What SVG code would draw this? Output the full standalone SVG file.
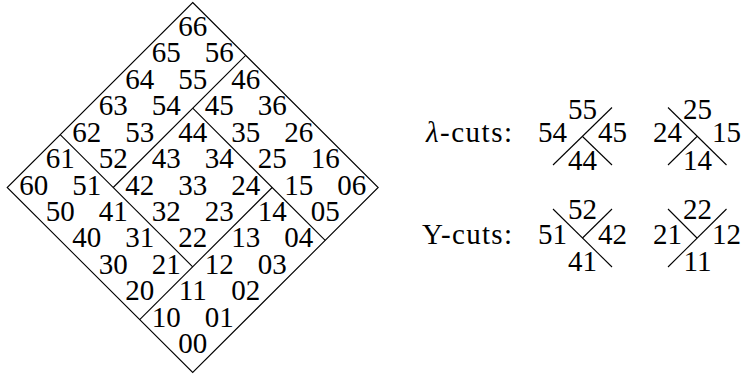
<svg xmlns="http://www.w3.org/2000/svg" width="742" height="375" viewBox="0 0 742 375">
<style>
.lb{font-family:"Liberation Serif","Times New Roman",serif;font-size:29px;text-anchor:middle;fill:#000}
.tl{font-family:"Liberation Serif","Times New Roman",serif;font-size:29px;fill:#000}
.ln{stroke:#000;stroke-width:1.1;fill:none;stroke-linecap:butt}
</style>
<rect width="742" height="375" fill="#fff"/>
<g id="diamond"><polygon class="ln" points="192.7,2.5 378.2,187.5 192.7,372.5 7.2,187.5"/></g>
<g id="connectors">
<line class="ln" x1="139.7" y1="319.6" x2="272.2" y2="187.5"/>
<line class="ln" x1="325.2" y1="240.4" x2="192.7" y2="108.2"/>
<line class="ln" x1="113.2" y1="187.5" x2="245.7" y2="55.3"/>
<line class="ln" x1="192.7" y1="266.8" x2="60.2" y2="134.6"/>
<line class="ln" x1="553" y1="165" x2="612" y2="107.5"/>
<line class="ln" x1="582.5" y1="136.5" x2="612" y2="165"/>
<line class="ln" x1="668" y1="107.5" x2="726.5" y2="165"/>
<line class="ln" x1="668" y1="165" x2="697" y2="136.5"/>
<line class="ln" x1="553" y1="209" x2="612" y2="267"/>
<line class="ln" x1="582.5" y1="238" x2="612" y2="209"/>
<line class="ln" x1="668" y1="267" x2="726.5" y2="209"/>
<line class="ln" x1="668" y1="209" x2="697" y2="238"/>
</g>
<g id="c66"><text class="lb" x="192.7" y="35.9">66</text></g>
<g id="c65"><text class="lb" x="166.2" y="62.3">65</text></g>
<g id="c56"><text class="lb" x="219.2" y="62.3">56</text></g>
<g id="c64"><text class="lb" x="139.7" y="88.8">64</text></g>
<g id="c55"><text class="lb" x="192.7" y="88.8">55</text></g>
<g id="c46"><text class="lb" x="245.7" y="88.8">46</text></g>
<g id="c63"><text class="lb" x="113.2" y="115.2">63</text></g>
<g id="c54"><text class="lb" x="166.2" y="115.2">54</text></g>
<g id="c45"><text class="lb" x="219.2" y="115.2">45</text></g>
<g id="c36"><text class="lb" x="272.2" y="115.2">36</text></g>
<g id="c62"><text class="lb" x="86.7" y="141.6">62</text></g>
<g id="c53"><text class="lb" x="139.7" y="141.6">53</text></g>
<g id="c44"><text class="lb" x="192.7" y="141.6">44</text></g>
<g id="c35"><text class="lb" x="245.7" y="141.6">35</text></g>
<g id="c26"><text class="lb" x="298.7" y="141.6">26</text></g>
<g id="c61"><text class="lb" x="60.2" y="168.1">61</text></g>
<g id="c52"><text class="lb" x="113.2" y="168.1">52</text></g>
<g id="c43"><text class="lb" x="166.2" y="168.1">43</text></g>
<g id="c34"><text class="lb" x="219.2" y="168.1">34</text></g>
<g id="c25"><text class="lb" x="272.2" y="168.1">25</text></g>
<g id="c16"><text class="lb" x="325.2" y="168.1">16</text></g>
<g id="c60"><text class="lb" x="33.7" y="194.5">60</text></g>
<g id="c51"><text class="lb" x="86.7" y="194.5">51</text></g>
<g id="c42"><text class="lb" x="139.7" y="194.5">42</text></g>
<g id="c33"><text class="lb" x="192.7" y="194.5">33</text></g>
<g id="c24"><text class="lb" x="245.7" y="194.5">24</text></g>
<g id="c15"><text class="lb" x="298.7" y="194.5">15</text></g>
<g id="c06"><text class="lb" x="351.7" y="194.5">06</text></g>
<g id="c50"><text class="lb" x="60.2" y="220.9">50</text></g>
<g id="c41"><text class="lb" x="113.2" y="220.9">41</text></g>
<g id="c32"><text class="lb" x="166.2" y="220.9">32</text></g>
<g id="c23"><text class="lb" x="219.2" y="220.9">23</text></g>
<g id="c14"><text class="lb" x="272.2" y="220.9">14</text></g>
<g id="c05"><text class="lb" x="325.2" y="220.9">05</text></g>
<g id="c40"><text class="lb" x="86.7" y="247.4">40</text></g>
<g id="c31"><text class="lb" x="139.7" y="247.4">31</text></g>
<g id="c22"><text class="lb" x="192.7" y="247.4">22</text></g>
<g id="c13"><text class="lb" x="245.7" y="247.4">13</text></g>
<g id="c04"><text class="lb" x="298.7" y="247.4">04</text></g>
<g id="c30"><text class="lb" x="113.2" y="273.8">30</text></g>
<g id="c21"><text class="lb" x="166.2" y="273.8">21</text></g>
<g id="c12"><text class="lb" x="219.2" y="273.8">12</text></g>
<g id="c03"><text class="lb" x="272.2" y="273.8">03</text></g>
<g id="c20"><text class="lb" x="139.7" y="300.2">20</text></g>
<g id="c11"><text class="lb" x="192.7" y="300.2">11</text></g>
<g id="c02"><text class="lb" x="245.7" y="300.2">02</text></g>
<g id="c10"><text class="lb" x="166.2" y="326.6">10</text></g>
<g id="c01"><text class="lb" x="219.2" y="326.6">01</text></g>
<g id="c00"><text class="lb" x="192.7" y="353.1">00</text></g>
<g id="lambda-title"><text class="tl" x="426" y="142" textLength="86" lengthAdjust="spacing"><tspan font-style="italic">λ</tspan>-cuts:</text></g>
<g id="y-title"><text class="tl" x="422" y="243.5" textLength="90" lengthAdjust="spacing">Y-cuts:</text></g>
<g id="lc1">
<text class="lb" x="582.5" y="118.5">55</text>
<text class="lb" x="552.5" y="142">54</text>
<text class="lb" x="612.5" y="142">45</text>
<text class="lb" x="582.5" y="170">44</text>
</g>
<g id="lc2">
<text class="lb" x="697.5" y="118.5">25</text>
<text class="lb" x="667.5" y="142">24</text>
<text class="lb" x="726.5" y="142">15</text>
<text class="lb" x="697.5" y="170">14</text>
</g>
<g id="yc1">
<text class="lb" x="582.5" y="219">52</text>
<text class="lb" x="552.5" y="243.5">51</text>
<text class="lb" x="612.5" y="243.5">42</text>
<text class="lb" x="582.5" y="270.5">41</text>
</g>
<g id="yc2">
<text class="lb" x="697.5" y="219">22</text>
<text class="lb" x="667.5" y="243.5">21</text>
<text class="lb" x="726.5" y="243.5">12</text>
<text class="lb" x="697.5" y="270.5">11</text>
</g>
</svg>
